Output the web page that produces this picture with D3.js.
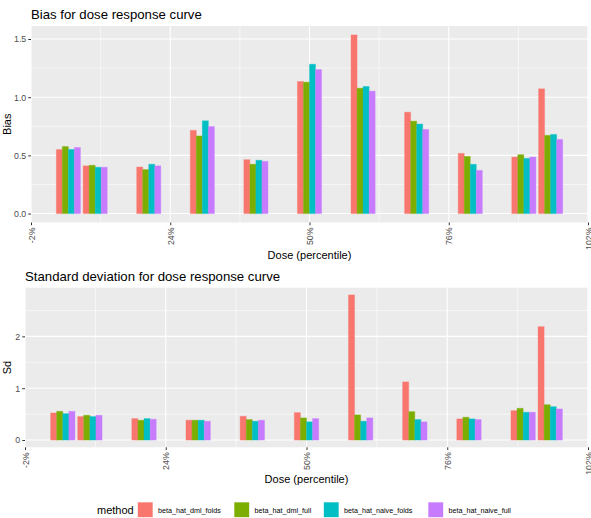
<!DOCTYPE html>
<html>
<head>
<meta charset="utf-8">
<script src="https://cdn.jsdelivr.net/npm/d3@7"></script>
<style>
  body { margin: 0; background: #fff; }
  svg { display: block; font-family: "Liberation Sans", Arial, sans-serif; }
</style>
</head>
<body>
<svg id="chart" width="591" height="518"></svg>
<script>
// ---- data ----
const doses = [5, 10, 20, 30, 40, 50, 60, 70, 80, 90, 95];
const methods = ["beta_hat_dml_folds", "beta_hat_dml_full", "beta_hat_naive_folds", "beta_hat_naive_full"];
const colors = ["#F8766D", "#7CAE00", "#00BFC4", "#C77CFF"];

const biasDmlFolds   = [0.55, 0.41, 0.40, 0.715, 0.463, 1.135, 1.535, 0.871, 0.517, 0.486, 1.072];
const biasDmlFull    = [0.576, 0.415, 0.378, 0.667, 0.424, 1.129, 1.077, 0.794, 0.491, 0.506, 0.672];
const biasNaiveFolds = [0.551, 0.398, 0.424, 0.797, 0.458, 1.283, 1.092, 0.769, 0.423, 0.474, 0.680];
const biasNaiveFull  = [0.568, 0.398, 0.41, 0.748, 0.449, 1.237, 1.052, 0.723, 0.371, 0.486, 0.637];

const sdDmlFolds   = [0.523, 0.453, 0.414, 0.382, 0.459, 0.529, 2.799, 1.122, 0.408, 0.567, 2.187];
const sdDmlFull    = [0.554, 0.478, 0.382, 0.382, 0.395, 0.427, 0.485, 0.548, 0.440, 0.612, 0.682];
const sdNaiveFolds = [0.51, 0.453, 0.414, 0.382, 0.363, 0.351, 0.363, 0.395, 0.408, 0.536, 0.644];
const sdNaiveFull  = [0.554, 0.478, 0.401, 0.363, 0.382, 0.414, 0.427, 0.351, 0.395, 0.536, 0.600];

const biasTicks = [0, 0.5, 1.0, 1.5];
const biasMinor = [0.25, 0.75, 1.25];
const sdTicks = [0, 1, 2];
const sdMinor = [0.5, 1.5, 2.5];
const xTickLabels = ["-2%", "24%", "50%", "76%", "102%"];

// ---- layout ----
const svg = d3.select("#chart");
const barW = 4.5;                   // dodge width in dose units
const xMin = doses[0] - barW / 2, xMax = doses[doses.length - 1] + barW / 2;
const xPad = (xMax - xMin) * 0.05;
const xDomain = [xMin - xPad, xMax + xPad];
const xTickVals = d3.range(5).map(i => xDomain[0] + i * (xDomain[1] - xDomain[0]) / 4);
const xMinorVals = d3.range(4).map(i => (xTickVals[i] + xTickVals[i + 1]) / 2);

function panel(opts) {
  const { left, right, top, bottom, series, ticks, minor, tickFmt, title, ytitle, xtitleY } = opts;
  const g = svg.append("g");
  const x = d3.scaleLinear().domain(xDomain).range([left, right]);
  const maxV = d3.max(series.flat());
  const y = d3.scaleLinear().domain([-0.05 * maxV, 1.05 * maxV]).range([bottom, top]);

  g.append("rect").attr("x", left).attr("y", top).attr("width", right - left).attr("height", bottom - top).attr("fill", "#EBEBEB");

  // minor grid
  g.selectAll(".hmin").data(minor.filter(v => y(v) > top)).join("line")
    .attr("x1", left).attr("x2", right).attr("y1", d => y(d)).attr("y2", d => y(d))
    .attr("stroke", "#fff").attr("stroke-width", 0.55);
  g.selectAll(".vmin").data(xMinorVals).join("line")
    .attr("y1", top).attr("y2", bottom).attr("x1", d => x(d)).attr("x2", d => x(d))
    .attr("stroke", "#fff").attr("stroke-width", 0.55);
  // major grid
  g.selectAll(".hmaj").data(ticks).join("line")
    .attr("x1", left).attr("x2", right).attr("y1", d => y(d)).attr("y2", d => y(d))
    .attr("stroke", "#fff").attr("stroke-width", 1.1);
  g.selectAll(".vmaj").data(xTickVals).join("line")
    .attr("y1", top).attr("y2", bottom).attr("x1", d => x(d)).attr("x2", d => x(d))
    .attr("stroke", "#fff").attr("stroke-width", 1.1);

  // bars
  const bw = barW / methods.length;
  series.forEach((vals, mi) => {
    g.append("g").selectAll("rect").data(vals.map((v, i) => ({ d: doses[i], v }))).join("rect")
      .attr("x", p => x(p.d - barW / 2 + mi * bw))
      .attr("width", p => x(p.d - barW / 2 + (mi + 1) * bw) - x(p.d - barW / 2 + mi * bw))
      .attr("y", p => y(p.v))
      .attr("height", p => y(0) - y(p.v))
      .attr("fill", colors[mi])
      .attr("stroke", colors[mi]).attr("stroke-opacity", 0.35).attr("stroke-width", 1);
  });

  // y axis
  const ya = g.append("g").attr("transform", `translate(${left},0)`)
    .call(d3.axisLeft(y).tickValues(ticks).tickFormat(tickFmt).tickSize(2.75).tickPadding(2));
  ya.select(".domain").remove();
  ya.selectAll("line").attr("stroke", "#333");
  ya.selectAll("text").attr("fill", "#4D4D4D").style("font-size", "8.8px").style("font-family", "Liberation Sans, Arial, sans-serif");

  // x axis
  const xa = g.append("g").attr("transform", `translate(0,${bottom})`)
    .call(d3.axisBottom(x).tickValues(xTickVals).tickFormat((d, i) => xTickLabels[i]).tickSize(2.75).tickPadding(2));
  xa.select(".domain").remove();
  xa.selectAll("line").attr("stroke", "#333");
  xa.selectAll("text").attr("fill", "#4D4D4D").style("font-size", "8.8px").style("font-family", "Liberation Sans, Arial, sans-serif")
    .attr("transform", "rotate(-90)").attr("text-anchor", "end").attr("dy", "0.35em").attr("x", -5).attr("y", 0);

  // titles
  g.append("text").attr("x", left).attr("y", top - 7).text(title)
    .style("font-size", "13.2px").attr("fill", "#000");
  g.append("text").attr("transform", `translate(11,${(top + bottom) / 2}) rotate(-90)`)
    .attr("text-anchor", "middle").text(ytitle).style("font-size", "11px");
  g.append("text").attr("x", (left + right) / 2).attr("y", xtitleY).attr("text-anchor", "middle")
    .text("Dose (percentile)").style("font-size", "11px");
}

panel({
  left: 31, right: 588, top: 26, bottom: 222.5,
  series: [biasDmlFolds, biasDmlFull, biasNaiveFolds, biasNaiveFull],
  ticks: biasTicks, minor: biasMinor, tickFmt: d3.format(".1f"),
  title: "Bias for dose response curve", ytitle: "Bias", xtitleY: 259
});
panel({
  left: 25, right: 588, top: 287.7, bottom: 447.3,
  series: [sdDmlFolds, sdDmlFull, sdNaiveFolds, sdNaiveFull],
  ticks: sdTicks, minor: sdMinor, tickFmt: d3.format("d"),
  title: "Standard deviation for dose response curve", ytitle: "Sd", xtitleY: 483
});

// legend
const leg = svg.append("g");
leg.append("text").attr("x", 97).attr("y", 513.5).text("method").style("font-size", "11px");
const keyX = [138, 234.5, 324, 428.5];
methods.forEach((m, i) => {
  leg.append("rect").attr("x", keyX[i]).attr("y", 502.5).attr("width", 14.5).attr("height", 14.5)
    .attr("fill", colors[i]).attr("stroke", colors[i]).attr("stroke-opacity", 0.35);
  leg.append("text").attr("x", keyX[i] + 20).attr("y", 512.5).text(m)
    .style("font-size", "7.2px").attr("fill", "#000");
});
</script>
</body>
</html>
